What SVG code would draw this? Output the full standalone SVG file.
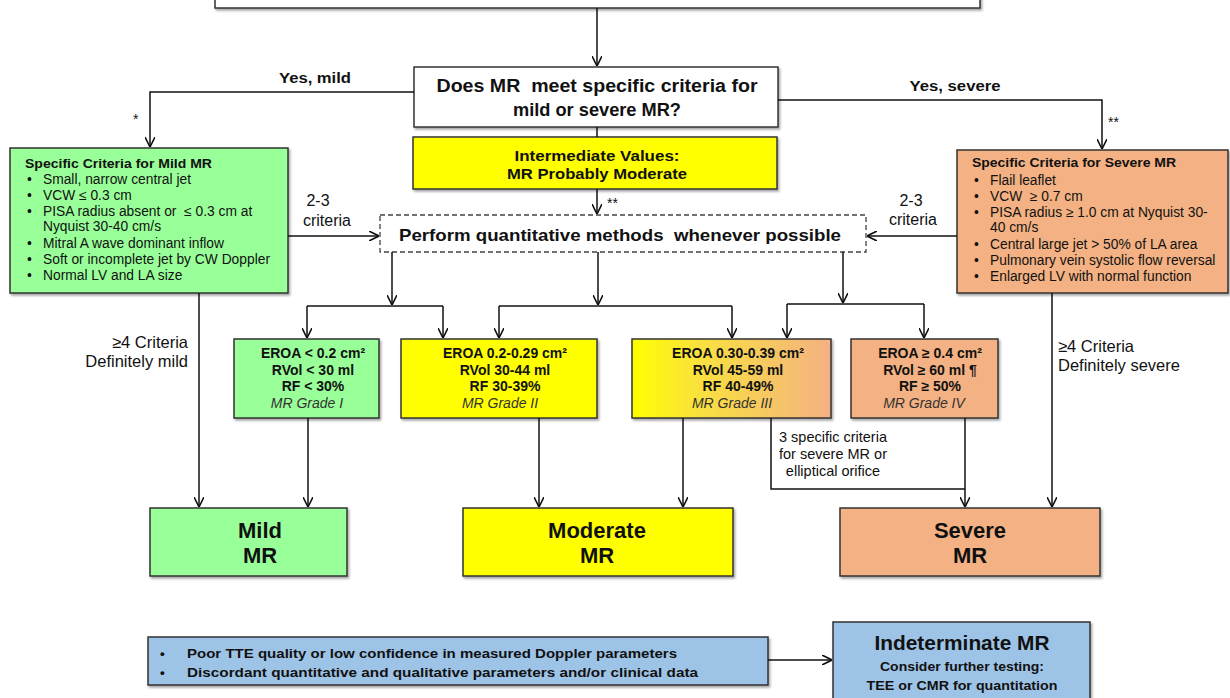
<svg xmlns="http://www.w3.org/2000/svg" width="1230" height="698" viewBox="0 0 1230 698">
<defs>
<marker id="arr" viewBox="0 0 10 10" refX="10" refY="5" markerWidth="10" markerHeight="10" markerUnits="userSpaceOnUse" orient="auto">
<path d="M0,0 L10,5 L0,10" fill="none" stroke="#111" stroke-width="1.6"/>
</marker>
<linearGradient id="g3" x1="0" y1="0" x2="1" y2="0">
<stop offset="0" stop-color="#FFFF00"/>
<stop offset="0.35" stop-color="#F9E040"/>
<stop offset="1" stop-color="#F4B183"/>
</linearGradient>
<filter id="sh" x="-5%" y="-5%" width="110%" height="115%">
<feDropShadow dx="1.5" dy="2" stdDeviation="1" flood-color="#000" flood-opacity="0.35"/>
</filter>
</defs>
<style>
.box{stroke:#333;stroke-width:1.5;filter:url(#sh)}
.green{fill:#99FF99}
.yellow{fill:#FFFF00}
.salmon{fill:#F4B183}
.blue{fill:#9DC3E6}
.white{fill:#fff}
text{font-family:"Liberation Sans",Arial,sans-serif;fill:#111}
.b{font-weight:bold}
.c{text-anchor:middle}
.r{text-anchor:end}
.it{font-style:italic;fill:#333}
.conn line,.conn polyline{stroke:#111;stroke-width:1.5;fill:none}
</style>

<g id="top-box">
<rect class="box white" x="215" y="-40" width="765" height="48"/>
</g>

<g id="question">
<rect class="box white" x="414" y="67" width="364" height="60"/>
<text class="b c" x="597" y="92" font-size="17.5" textLength="321" lengthAdjust="spacingAndGlyphs" xml:space="preserve">Does MR  meet specific criteria for</text>
<text class="b c" x="597" y="116" font-size="17.5" textLength="168" lengthAdjust="spacingAndGlyphs">mild or severe MR?</text>
</g>

<g id="intermediate">
<rect class="box yellow" x="413" y="137" width="364" height="52"/>
<text class="b c" x="597" y="161" font-size="14" textLength="165" lengthAdjust="spacingAndGlyphs">Intermediate Values:</text>
<text class="b c" x="597" y="179" font-size="14" textLength="180" lengthAdjust="spacingAndGlyphs">MR Probably Moderate</text>
</g>

<g id="mild-criteria">
<rect class="box green" x="10" y="148" width="278" height="145"/>
<text class="b" x="25" y="168" font-size="13.5" textLength="187" lengthAdjust="spacingAndGlyphs">Specific Criteria for Mild MR</text>
<g font-size="13.8">
<text x="27" y="184">•</text><text x="43" y="184">Small, narrow central jet</text>
<text x="27" y="200">•</text><text x="43" y="200">VCW ≤ 0.3 cm</text>
<text x="27" y="216">•</text><text x="43" y="216" xml:space="preserve">PISA radius absent or  ≤ 0.3 cm at</text>
<text x="43" y="231">Nyquist 30-40 cm/s</text>
<text x="27" y="248">•</text><text x="43" y="248">Mitral A wave dominant inflow</text>
<text x="27" y="264">•</text><text x="43" y="264">Soft or incomplete jet by CW Doppler</text>
<text x="27" y="280">•</text><text x="43" y="280">Normal LV and LA size</text>
</g>
</g>

<g id="severe-criteria">
<rect class="box salmon" x="957" y="150" width="271" height="143"/>
<text class="b" x="972" y="167" font-size="13.5" textLength="204" lengthAdjust="spacingAndGlyphs">Specific Criteria for Severe MR</text>
<g font-size="13.8">
<text x="974" y="185">•</text><text x="990" y="185">Flail leaflet</text>
<text x="974" y="201">•</text><text x="990" y="201" xml:space="preserve">VCW  ≥ 0.7 cm</text>
<text x="974" y="217">•</text><text x="990" y="217">PISA radius ≥ 1.0 cm at Nyquist 30-</text>
<text x="990" y="232">40 cm/s</text>
<text x="974" y="249">•</text><text x="990" y="249">Central large jet &gt; 50% of LA area</text>
<text x="974" y="265">•</text><text x="990" y="265">Pulmonary vein systolic flow reversal</text>
<text x="974" y="281">•</text><text x="990" y="281">Enlarged LV with normal function</text>
</g>
</g>

<g id="quantitative">
<rect x="380" y="215" width="486" height="37" fill="#fff" stroke="#444" stroke-width="1.3" stroke-dasharray="5,3"/>
<text class="b c" x="620" y="241" font-size="16.5" textLength="442" lengthAdjust="spacingAndGlyphs" xml:space="preserve">Perform quantitative methods  whenever possible</text>
</g>

<g id="grade1">
<rect class="box green" x="234" y="339" width="145" height="79"/>
<g class="c" font-size="14">
<text class="b" x="313" y="358">EROA &lt; 0.2 cm²</text>
<text class="b" x="313" y="375">RVol &lt; 30 ml</text>
<text class="b" x="313" y="391">RF &lt; 30%</text>
<text class="it" x="307" y="408">MR Grade I</text>
</g>
</g>

<g id="grade2">
<rect class="box yellow" x="401" y="339" width="196" height="79"/>
<g class="c" font-size="14">
<text class="b" x="505" y="358">EROA 0.2-0.29 cm²</text>
<text class="b" x="505" y="375">RVol 30-44 ml</text>
<text class="b" x="505" y="391">RF 30-39%</text>
<text class="it" x="500" y="408">MR Grade II</text>
</g>
</g>

<g id="grade3">
<rect class="box" fill="url(#g3)" x="632" y="339" width="199" height="79"/>
<g class="c" font-size="14">
<text class="b" x="738" y="358">EROA 0.30-0.39 cm²</text>
<text class="b" x="738" y="375">RVol 45-59 ml</text>
<text class="b" x="738" y="391">RF 40-49%</text>
<text class="it" x="732" y="408">MR Grade III</text>
</g>
</g>

<g id="grade4">
<rect class="box salmon" x="851" y="339" width="147" height="79"/>
<g class="c" font-size="14">
<text class="b" x="930" y="358">EROA ≥ 0.4 cm²</text>
<text class="b" x="930" y="375">RVol ≥ 60 ml ¶</text>
<text class="b" x="930" y="391">RF ≥ 50%</text>
<text class="it" x="924" y="408">MR Grade IV</text>
</g>
</g>

<g id="mild-mr">
<rect class="box green" x="150" y="508" width="197" height="68"/>
<text class="b c" x="260" y="538" font-size="22">Mild</text>
<text class="b c" x="260" y="563" font-size="22">MR</text>
</g>

<g id="moderate-mr">
<rect class="box yellow" x="463" y="508" width="270" height="68"/>
<text class="b c" x="597" y="538" font-size="22">Moderate</text>
<text class="b c" x="597" y="563" font-size="22">MR</text>
</g>

<g id="severe-mr">
<rect class="box salmon" x="840" y="508" width="260" height="68"/>
<text class="b c" x="970" y="538" font-size="22">Severe</text>
<text class="b c" x="970" y="563" font-size="22">MR</text>
</g>

<g id="poor-quality">
<rect class="box blue" x="148" y="637" width="620" height="48"/>
<g class="b" font-size="13.5">
<text x="160" y="658">•</text><text x="187" y="658" textLength="490" lengthAdjust="spacingAndGlyphs">Poor TTE quality or low confidence in measured Doppler parameters</text>
<text x="160" y="677">•</text><text x="187" y="677" textLength="511" lengthAdjust="spacingAndGlyphs">Discordant quantitative and qualitative parameters and/or clinical data</text>
</g>
</g>

<g id="indeterminate">
<rect class="box blue" x="833" y="622" width="257" height="80"/>
<text class="b c" x="962" y="650" font-size="21" textLength="175" lengthAdjust="spacingAndGlyphs">Indeterminate MR</text>
<text class="b c" x="962" y="671" font-size="13.5" textLength="164" lengthAdjust="spacingAndGlyphs">Consider further testing:</text>
<text class="b c" x="962" y="690" font-size="13.5" textLength="191" lengthAdjust="spacingAndGlyphs">TEE or CMR for quantitation</text>
</g>

<g id="labels">
<text class="b c" x="315" y="83" font-size="14.5" textLength="72" lengthAdjust="spacingAndGlyphs">Yes, mild</text>
<text class="b c" x="955" y="91" font-size="14.5" textLength="91" lengthAdjust="spacingAndGlyphs">Yes, severe</text>
<text x="133" y="124" font-size="14">*</text>
<text x="1108" y="127" font-size="14">**</text>
<text x="607" y="208" font-size="14">**</text>
<text class="c" x="318" y="206" font-size="16">2-3</text>
<text class="c" x="327" y="226" font-size="16">criteria</text>
<text class="c" x="911" y="206" font-size="16">2-3</text>
<text class="c" x="913" y="225" font-size="16">criteria</text>
<text class="r" x="188" y="348" font-size="16.5">≥4 Criteria</text>
<text class="r" x="188" y="367" font-size="16.5">Definitely mild</text>
<text x="1058" y="352" font-size="16.5">≥4 Criteria</text>
<text x="1058" y="371" font-size="16.5">Definitely severe</text>
<g class="c" font-size="14.5">
<text x="833" y="442">3 specific criteria</text>
<text x="833" y="459">for severe MR or</text>
<text x="833" y="476">elliptical orifice</text>
</g>
</g>

<g id="connectors" class="conn">
<line x1="597" y1="8" x2="597" y2="66" marker-end="url(#arr)"/>
<polyline points="414,92 150,92 150,147" marker-end="url(#arr)"/>
<polyline points="778,100 1102,100 1102,149" marker-end="url(#arr)"/>
<line x1="597" y1="127" x2="597" y2="137"/>
<line x1="597" y1="189" x2="597" y2="214" marker-end="url(#arr)"/>
<line x1="288" y1="236" x2="379" y2="236" marker-end="url(#arr)"/>
<line x1="957" y1="236" x2="867" y2="236" marker-end="url(#arr)"/>
<line x1="392" y1="252" x2="392" y2="305" marker-end="url(#arr)"/>
<line x1="307" y1="306" x2="443" y2="306"/>
<line x1="307" y1="306" x2="307" y2="338" marker-end="url(#arr)"/>
<line x1="443" y1="306" x2="443" y2="338" marker-end="url(#arr)"/>
<line x1="598" y1="252" x2="598" y2="305" marker-end="url(#arr)"/>
<line x1="499" y1="306" x2="732" y2="306"/>
<line x1="499" y1="306" x2="499" y2="338" marker-end="url(#arr)"/>
<line x1="732" y1="306" x2="732" y2="338" marker-end="url(#arr)"/>
<line x1="843" y1="252" x2="843" y2="303" marker-end="url(#arr)"/>
<line x1="787" y1="304" x2="924" y2="304"/>
<line x1="787" y1="304" x2="787" y2="338" marker-end="url(#arr)"/>
<line x1="924" y1="304" x2="924" y2="338" marker-end="url(#arr)"/>
<line x1="199" y1="293" x2="199" y2="507" marker-end="url(#arr)"/>
<line x1="308" y1="418" x2="308" y2="507" marker-end="url(#arr)"/>
<line x1="539" y1="418" x2="539" y2="507" marker-end="url(#arr)"/>
<line x1="683" y1="418" x2="683" y2="507" marker-end="url(#arr)"/>
<polyline points="771,418 771,489 965,489"/>
<line x1="965" y1="418" x2="965" y2="507" marker-end="url(#arr)"/>
<line x1="1052" y1="293" x2="1052" y2="507" marker-end="url(#arr)"/>
<line x1="768" y1="660" x2="832" y2="660" marker-end="url(#arr)"/>
</g>
</svg>
